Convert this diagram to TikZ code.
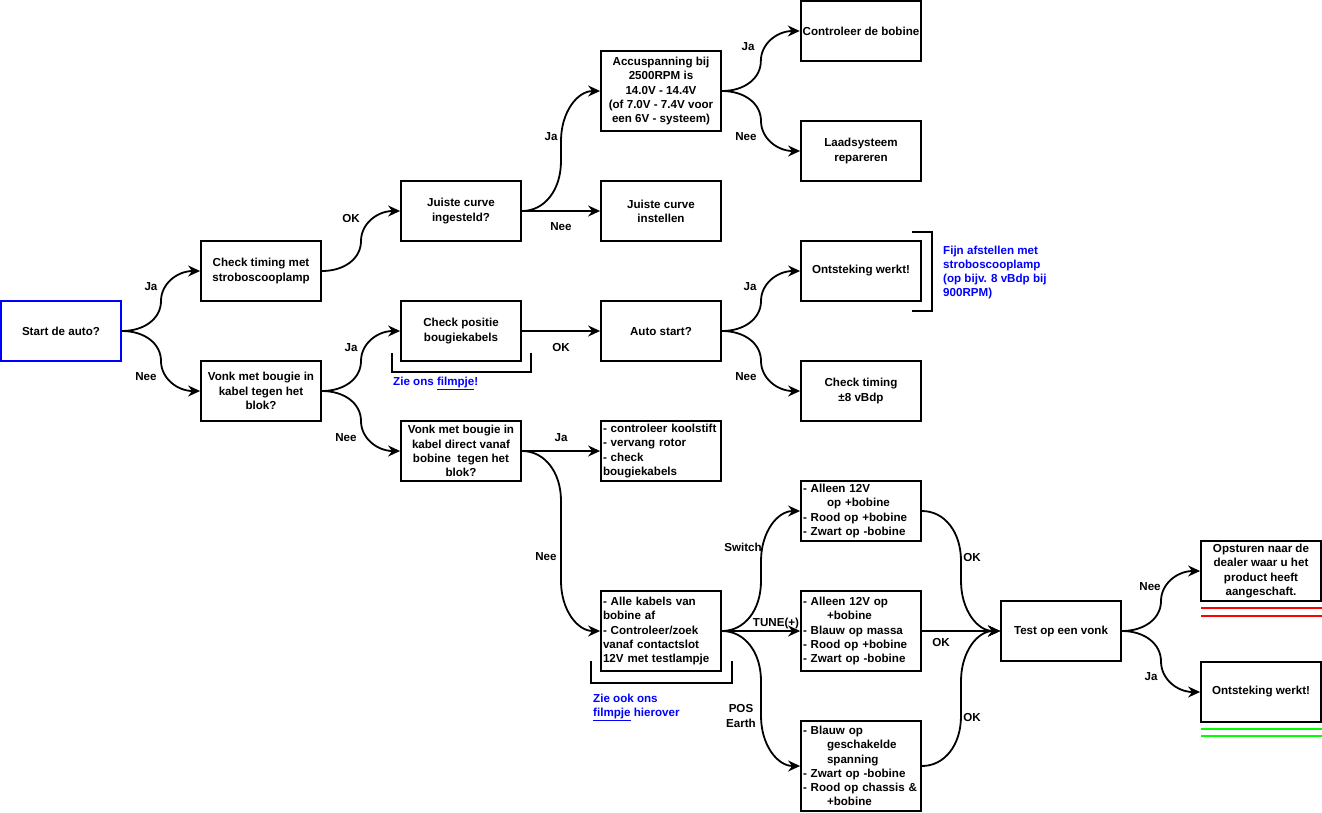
\documentclass[tikz,border=0pt]{standalone}
\usepackage{fontspec}
\setmainfont{Liberation Sans}
\usetikzlibrary{arrows.meta,calc}
\definecolor{lgreen}{RGB}{0,255,0}
\definecolor{dblue}{RGB}{0,0,255}
\begin{document}
\begin{tikzpicture}[x=1pt,y=-1pt,
  every node/.style={font=\fontsize{11.6}{14.3}\selectfont\bfseries},
  box/.style={draw,line width=1.8pt,minimum width=120pt,minimum height=60pt,inner sep=2pt,align=center},
  lbox/.style={box,text width=116pt,align=left},
  lab/.style={inner sep=0pt},
  note/.style={inner sep=0pt,text=dblue,align=left,anchor=west},
  arr/.style={line width=1.8pt,-{Stealth[length=12pt,width=11pt,inset=4pt]}},
  cur/.style={to path={let \p1=(\tikztostart),\p2=(\tikztotarget),
     \n1={0.5*(\x2-\x1)}, \n2={min(abs(\y2-\y1)/2,50)}, \n3={sign(\y2-\y1)} in
     .. controls ({\x1+0.58*\n1},\y1) and ({0.5*\x1+0.5*\x2},{\y1+\n3*0.42*\n2})
     .. ({0.5*\x1+0.5*\x2},{\y1+\n3*\n2})
     -- ({0.5*\x1+0.5*\x2},{\y2-\n3*\n2})
     .. controls ({0.5*\x1+0.5*\x2},{\y2-\n3*0.42*\n2}) and ({\x2-0.58*\n1},\y2)
     .. (\p2) \tikztonodes}},
  brk/.style={line width=1.8pt},
]
\useasboundingbox (0,0) rectangle (1322,812);

% boxes
\node[box,draw=dblue] (start) at (61,331) {Start de auto?};
\node[box] (ct)   at (261,271) {Check timing met\\stroboscooplamp};
\node[box] (vk)   at (261,391) {Vonk met bougie in\\kabel tegen het\\blok?};
\node[box] (jci)  at (461,211) {Juiste curve\\ingesteld?};
\node[box] (cp)   at (461,331) {Check positie\\bougiekabels};
\node[box] (vd)   at (461,451) {Vonk met bougie in\\kabel direct vanaf\\bobine\ \ tegen het\\blok?};
\node[box,minimum height=80pt] (acc) at (661,91) {Accuspanning bij\\2500RPM is\\14.0V - 14.4V\\(of 7.0V - 7.4V voor\\een 6V - systeem)};
\node[box] (jcs)  at (661,211) {Juiste curve\\instellen};
\node[box] (as)   at (661,331) {Auto start?};
\node[lbox] (kool) at (661,451) {- controleer koolstift\\- vervang rotor\\- check\\bougiekabels};
\node[lbox,minimum height=80pt] (alle) at (661,631) {- Alle kabels van\\bobine af\\- Controleer/zoek\\vanaf contactslot\\12V met testlampje};
\node[box] (cdb)  at (861,31) {Controleer de bobine};
\node[box] (laad) at (861,151) {Laadsysteem\\repareren};
\node[box] (ow1)  at (861,271) {Ontsteking werkt!};
\node[box] (ct8)  at (861,391) {Check timing\\±8 vBdp};
\node[lbox] (sw)  at (861,511) {- Alleen 12V\\\hspace*{24pt}op +bobine\\- Rood op +bobine\\- Zwart op -bobine};
\node[lbox,minimum height=80pt] (tune) at (861,631) {- Alleen 12V op\\\hspace*{24pt}+bobine\\- Blauw op massa\\- Rood op +bobine\\- Zwart op -bobine};
\node[lbox,minimum height=90pt] (pos) at (861,766) {- Blauw op\\\hspace*{24pt}geschakelde\\\hspace*{24pt}spanning\\- Zwart op -bobine\\- Rood op chassis \&\\\hspace*{24pt}+bobine};
\node[box] (test) at (1061,631) {Test op een vonk};
\node[box] (ops)  at (1261,571) {Opsturen naar de\\dealer waar u het\\product heeft\\aangeschaft.};
\node[box] (ow2)  at (1261,692) {Ontsteking werkt!};

% connectors
\draw[arr] (start.east) to[cur] (ct.west);
\draw[arr] (start.east) to[cur] (vk.west);
\draw[arr] (ct.east) to[cur] (jci.west);
\draw[arr] (vk.east) to[cur] (cp.west);
\draw[arr] (vk.east) to[cur] (vd.west);
\draw[arr] (jci.east) to[cur] (acc.west);
\draw[arr] (jci.east) -- (jcs.west);
\draw[arr] (cp.east) -- (as.west);
\draw[arr] (acc.east) to[cur] (cdb.west);
\draw[arr] (acc.east) to[cur] (laad.west);
\draw[arr] (as.east) to[cur] (ow1.west);
\draw[arr] (as.east) to[cur] (ct8.west);
\draw[arr] (vd.east) -- (kool.west);
\draw[arr] (vd.east) to[cur] (alle.west);
\draw[arr] (alle.east) to[cur] (sw.west);
\draw[arr] (alle.east) -- (tune.west);
\draw[arr] (alle.east) to[cur] (pos.west);
\draw[arr] (sw.east) to[cur] (test.west);
\draw[arr] (tune.east) -- (test.west);
\draw[arr] (pos.east) to[cur] (test.west);
\draw[arr] (test.east) to[cur] (ops.west);
\draw[arr] (test.east) to[cur] (ow2.west);

% edge labels
\node[lab] (l1) at (151,287) {Ja};
\node[lab] (l2) at (146,377) {Nee};
\node[lab] (l3) at (351,218) {OK};
\node[lab] (l4) at (351,348) {Ja};
\node[lab] (l5) at (346,438) {Nee};
\node[lab] (l6) at (551,137) {Ja};
\node[lab] (l7) at (561,227) {Nee};
\node[lab] (l8) at (561,347) {OK};
\node[lab] (l9) at (748,47) {Ja};
\node[lab] (l10) at (746,137) {Nee};
\node[lab] (l11) at (750,287) {Ja};
\node[lab] (l12) at (746,377) {Nee};
\node[lab] (l13) at (561,438) {Ja};
\node[lab] (l14) at (546,557) {Nee};
\node[lab] (l15) at (743,547) {Switch};
\node[lab] (l16) at (776,623) {TUNE(+)};
\node[lab,align=center] (l17) at (741,716) {POS\\Earth};
\node[lab] (l18) at (972,557) {OK};
\node[lab] (l19) at (941,642) {OK};
\node[lab] (l20) at (972,717) {OK};
\node[lab] (l21) at (1150,587) {Nee};
\node[lab] (l22) at (1151,677) {Ja};

% brackets and notes
\draw[brk] (392,353) -- (392,372) -- (531,372) -- (531,353);
\draw[brk] (591,661) -- (591,683) -- (732,683) -- (732,661);
\draw[brk] (912,232) -- (932,232) -- (932,311) -- (912,311);
\node[note] (n1) at (393,383) {Zie ons \underline{filmpje}!};
\node[note] (n2) at (593,707.5) {Zie ook ons\\\underline{filmpje} hierover};
\node[note] (n3) at (943,272.5) {Fijn afstellen met\\stroboscooplamp\\(op bijv. 8 vBdp bij\\900RPM)};

% status lines
\draw[red,line width=1.6pt] (1201,608) -- (1322,608);
\draw[red,line width=1.6pt] (1201,616) -- (1322,616);
\draw[lgreen,line width=1.6pt] (1201,729) -- (1322,729);
\draw[lgreen,line width=1.6pt] (1201,736) -- (1322,736);
\end{tikzpicture}
\end{document}
